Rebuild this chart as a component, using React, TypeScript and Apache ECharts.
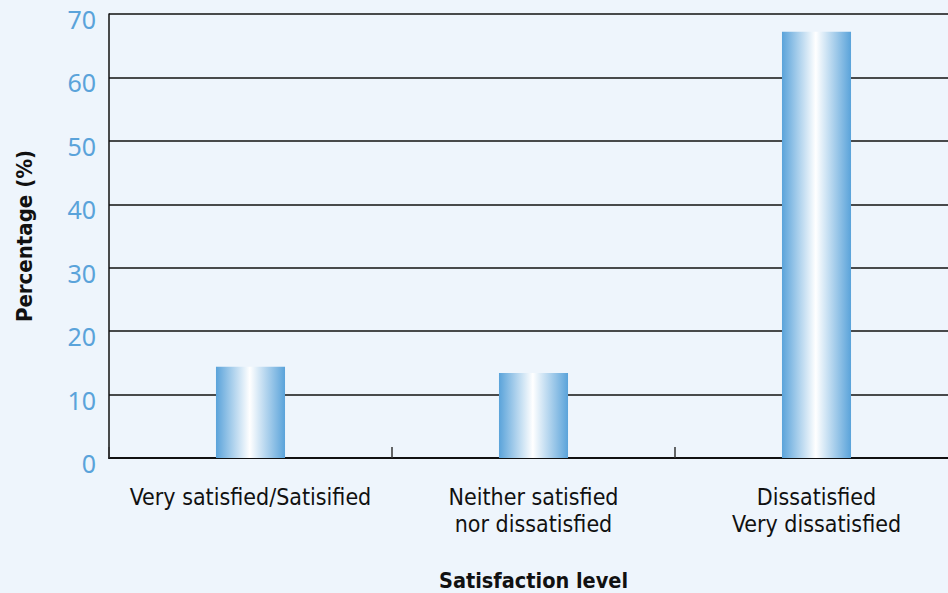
import React, { useEffect, useRef } from "react";
import * as echarts from "echarts";

const categories = ["Very satisfied/Satisified", "Neither satisfied\nnor dissatisfied", "Dissatisfied\nVery dissatisfied"];
const values = [14.4, 13.4, 67.2];
const yTicks = { min: 0, max: 70, interval: 10 };

export default function App() {
  const ref = useRef<HTMLDivElement>(null);
  useEffect(() => {
    document.body.style.margin = "0";
    document.body.style.overflow = "hidden";
    const chart = echarts.init(ref.current!, null, { renderer: "svg" });
    const blue = "#5aa3da";
    const narrow = "Liberation Sans Narrow, DejaVu Sans Condensed, sans-serif";
    chart.setOption({
      animation: false,
      backgroundColor: "#eef5fc",
      grid: { left: 109, width: 849, top: 14, bottom: 135, containLabel: false, outerBoundsMode: "none" },
      xAxis: {
        type: "category",
        data: categories,
        name: "Satisfaction level",
        nameLocation: "middle",
        nameGap: 111,
        nameTextStyle: { fontFamily: narrow, fontWeight: "bold", fontSize: 21.5, color: "#111" },
        axisLine: { lineStyle: { color: "#111", width: 2 } },
        axisTick: { show: true, inside: true, interval: 0, length: 11, lineStyle: { color: "#333", width: 1.5 } },
        axisLabel: { interval: 0, fontFamily: narrow, fontSize: 23, color: "#111", lineHeight: 27, margin: 25 },
      },
      yAxis: {
        type: "value",
        ...yTicks,
        name: "Percentage (%)",
        nameLocation: "middle",
        nameGap: 74,
        nameTextStyle: { fontFamily: narrow, fontWeight: "bold", fontSize: 22, color: "#111" },
        axisLine: { show: true, lineStyle: { color: "#111", width: 1.5 } },
        axisTick: { show: false },
        splitLine: { lineStyle: { color: "#111", width: 1.5 } },
        axisLabel: { fontFamily: "Noto Sans, sans-serif", fontSize: 25, lineHeight: 10, verticalAlign: "top", color: blue, margin: 13 },
      },
      series: [
        {
          type: "bar",
          data: values,
          barWidth: "24.4%",
          itemStyle: {
            color: new echarts.graphic.LinearGradient(0, 0, 1, 0, [
              { offset: 0, color: "#5aa3da" },
              { offset: 0.49, color: "#ffffff" },
              { offset: 1, color: "#5aa3da" },
            ]),
          },
        },
      ],
    });
    return () => chart.dispose();
  }, []);
  return <div ref={ref} style={{ position: "fixed", left: 0, top: 0, width: 948, height: 593 }} />;
}
